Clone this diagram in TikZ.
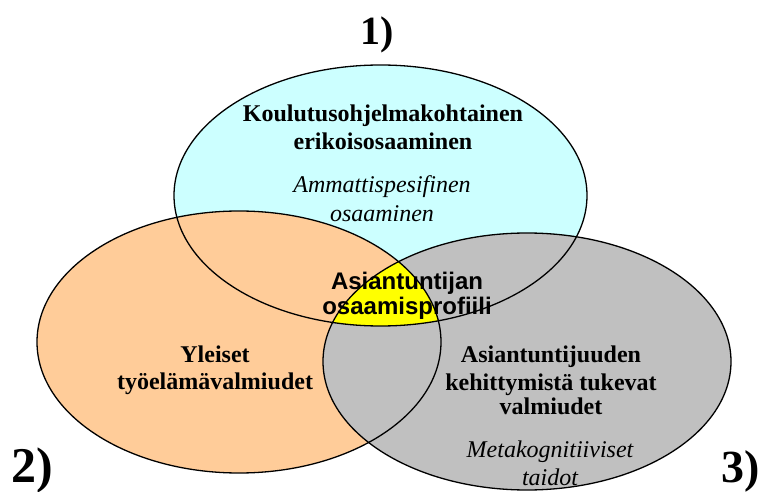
\documentclass[tikz,border=0pt]{standalone}
\usepackage{fontspec}
\setmainfont{Liberation Serif}
\newfontfamily\arialbold{Liberation Sans}[BoldFont={* Bold}]
\definecolor{skyfill}{HTML}{CCFFFF}
\definecolor{peachfill}{HTML}{FFCC99}
\definecolor{greyfill}{HTML}{C0C0C0}
\definecolor{corefill}{HTML}{FFFF00}
\tikzset{
  rim/.style={draw=black, line width=1.3pt},
  head/.style={anchor=base, inner sep=0pt, font=\fontsize{24}{28}\selectfont\bfseries},
  sub/.style={anchor=base, inner sep=0pt, font=\fontsize{24}{28}\selectfont\itshape},
  core/.style={anchor=base, inner sep=0pt, font=\fontsize{24}{28}\selectfont\arialbold\bfseries},
  tag/.style={anchor=base, inner sep=0pt, font=\fontsize{#1}{#1}\selectfont\bfseries},
}
\begin{document}
\begin{tikzpicture}[x=1pt, y={(0pt,-1pt)}]
\useasboundingbox (0,0) rectangle (764,492);

% the three competence areas
\def\topset{(380.5,195.5) ellipse [x radius=206.5pt, y radius=130.5pt]}
\def\leftset{(239,342) ellipse [x radius=202pt, y radius=131pt]}
\def\rightset{(527,361.5) ellipse [x radius=204pt, y radius=128.5pt]}

\fill[skyfill] \topset;
\fill[peachfill] \leftset;
\fill[greyfill] \rightset;

% common core of all three areas
\begin{scope}
  \clip \topset;
  \clip \leftset;
  \fill[corefill] \rightset;
\end{scope}

\draw[rim] \topset;
\draw[rim] \leftset;
\draw[rim] \rightset;

% area 1
\node[head] (t1) at (383,122) {Koulutusohjelmakohtainen};
\node[head] (t2) at (383,150) {erikoisosaaminen};
\node[sub]  (t3) at (382,193) {Ammattispesifinen};
\node[sub]  (t4) at (382,222) {osaaminen};

% area 2
\node[head] (l1) at (215,362) {Yleiset};
\node[head] (l2) at (215,389) {työelämävalmiudet};

% area 3
\node[head] (r1) at (551,362) {Asiantuntijuuden};
\node[head] (r2) at (551,390) {kehittymistä tukevat};
\node[head] (r3) at (551,414) {valmiudet};
\node[sub]  (r4) at (550,457) {Metakognitiiviset};
\node[sub]  (r5) at (550,485) {taidot};

% core
\node[core] (c1) at (407,289) {Asiantuntijan};
\node[core] (c2) at (407,314) {osaamisprofiili};

% area numbers
\node[tag=40] (n1) at (377,45) {1)};
\node[tag=50] (n2) at (32,482) {2)};
\node[tag=46] (n3) at (741,482) {3)};
\end{tikzpicture}
\end{document}
